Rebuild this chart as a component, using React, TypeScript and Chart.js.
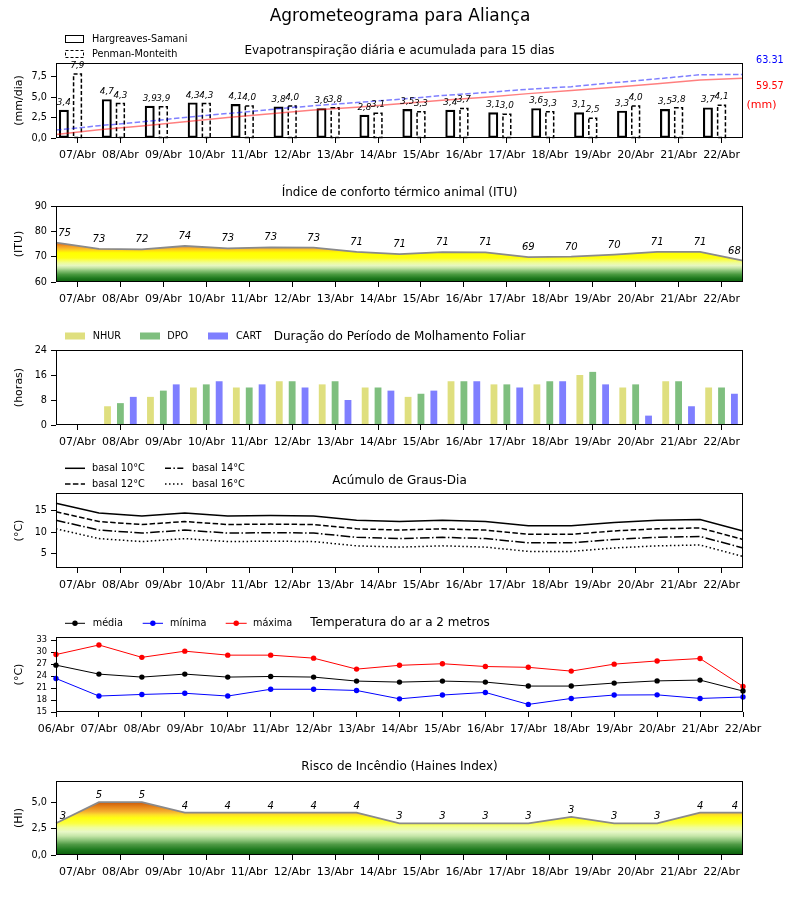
import React, { useEffect, useRef } from "react";
import { Chart, registerables } from "chart.js";

Chart.register(...registerables);

const FONT = '"DejaVu Sans", "Liberation Sans", sans-serif';
Chart.defaults.font.family = FONT;

// ---------------- data ----------------
const DAYS = ["07/Abr", "08/Abr", "09/Abr", "10/Abr", "11/Abr", "12/Abr", "13/Abr", "14/Abr", "15/Abr", "16/Abr", "17/Abr", "18/Abr", "19/Abr", "20/Abr", "21/Abr", "22/Abr"];
const DAYS_EDGES = ["06/Abr", ...DAYS];

const ET_HARGREAVES = [3.4, 4.7, 3.9, 4.3, 4.1, 3.8, 3.6, 2.8, 3.5, 3.4, 3.1, 3.6, 3.1, 3.3, 3.5, 3.7];
const ET_PENMAN = [7.9, 4.3, 3.9, 4.3, 4.0, 4.0, 3.8, 3.1, 3.3, 3.7, 3.0, 3.3, 2.5, 4.0, 3.8, 4.1];
const ET_HARGREAVES_ACC = [3.4, 8.1, 12.0, 16.3, 20.4, 24.2, 27.8, 30.6, 34.1, 37.5, 40.6, 44.2, 47.3, 50.6, 54.1, 57.8, 59.57];
const ET_PENMAN_ACC = [7.9, 12.2, 16.1, 20.4, 24.4, 28.4, 32.2, 35.3, 38.6, 42.3, 45.3, 48.6, 51.1, 55.1, 58.9, 63.0, 63.31];
const ET_TICKS = [0, 2.5, 5, 7.5];

const ITU_VALUES = [75.5, 73.1, 72.9, 74.2, 73.3, 73.7, 73.6, 71.9, 71.0, 71.8, 71.7, 69.8, 70.0, 70.8, 71.9, 71.9, 68.4];
const ITU_TICKS = [60, 70, 80, 90];

const WET_NHUR = [0, 6, 9, 12, 12, 14, 13, 12, 9, 14, 13, 13, 16, 12, 14, 12];
const WET_DPO = [0, 7, 11, 13, 12, 14, 14, 12, 10, 14, 13, 14, 17, 13, 14, 12];
const WET_CART = [0, 9, 13, 14, 13, 12, 8, 11, 11, 14, 12, 14, 13, 3, 6, 10];
const WET_TICKS = [0, 8, 16, 24];

const GD_BASE10 = [16.8, 14.5, 13.8, 14.5, 13.8, 13.9, 13.8, 12.8, 12.5, 12.8, 12.5, 11.5, 11.5, 12.3, 12.8, 13.0, 10.3];
const GD_BASE12 = [14.8, 12.5, 11.8, 12.5, 11.8, 11.9, 11.8, 10.8, 10.5, 10.8, 10.5, 9.5, 9.5, 10.3, 10.8, 11.0, 8.3];
const GD_BASE14 = [12.8, 10.5, 9.8, 10.5, 9.8, 9.9, 9.8, 8.8, 8.5, 8.8, 8.5, 7.5, 7.5, 8.3, 8.8, 9.0, 6.3];
const GD_BASE16 = [10.8, 8.5, 7.8, 8.5, 7.8, 7.9, 7.8, 6.8, 6.5, 6.8, 6.5, 5.5, 5.5, 6.3, 6.8, 7.0, 4.3];
const GD_TICKS = [5, 10, 15];

const TEMP_MEAN = [26.75, 24.5, 23.75, 24.5, 23.75, 23.9, 23.75, 22.75, 22.5, 22.75, 22.5, 21.5, 21.5, 22.25, 22.8, 23.0, 20.25];
const TEMP_MIN = [23.4, 19.0, 19.4, 19.7, 19.0, 20.7, 20.7, 20.4, 18.3, 19.25, 19.9, 16.9, 18.4, 19.25, 19.3, 18.4, 18.75];
const TEMP_MAX = [29.4, 31.8, 28.7, 30.25, 29.25, 29.25, 28.5, 25.75, 26.7, 27.1, 26.4, 26.2, 25.25, 27.0, 27.8, 28.4, 21.4];
const TEMP_TICKS = [15, 18, 21, 24, 27, 30, 33];

const HAINES = [3, 5, 5, 4, 4, 4, 4, 4, 3, 3, 3, 3, 3.6, 3, 3, 4, 4];
const HAINES_TICKS = [0, 2.5, 5];

// ---------------- styles ----------------
const ITU_STOPS: [number, string][] = [
  [60, "#0b5e0b"], [61.5, "#1f7a1f"], [63, "#4a9a40"], [64.5, "#8cc47a"], [65.5, "#c2e3a4"],
  [66.5, "#e6f7c0"], [67.5, "#eefc9a"], [68.5, "#f7fd5a"], [69.5, "#ffff10"], [71.5, "#ffff00"],
  [72.3, "#ffe010"], [73, "#fbc02a"], [74, "#f3a026"], [75, "#e87818"], [76, "#d85a0c"],
];
const HAINES_STOPS: [number, string][] = [
  [0, "#0a5c0a"], [0.5, "#1e7a1e"], [1.0, "#4f9a45"], [1.4, "#8cc47a"], [1.8, "#c5e6a8"],
  [2.2, "#e8f8c8"], [2.6, "#f0fe9a"], [3.0, "#fbff40"], [3.5, "#ffff10"], [3.8, "#fde02a"],
  [4.1, "#f5b030"], [4.5, "#e88a1c"], [5.0, "#cc5a0a"],
];

const comma1 = (v: number) => v.toFixed(1).replace(".", ",");
const int0 = (v: number) => String(Math.round(v));

function txt(ctx: CanvasRenderingContext2D, s: string, x: number, y: number, size: number, color = "#000", align: CanvasTextAlign = "left", italic = false) {
  ctx.save();
  ctx.font = `${italic ? "italic " : ""}${size}px ${FONT}`;
  ctx.fillStyle = color;
  ctx.textAlign = align;
  ctx.textBaseline = "middle";
  ctx.fillText(s, x, y);
  ctx.restore();
}
function vtxt(ctx: CanvasRenderingContext2D, s: string, x: number, y: number, size: number) {
  ctx.save();
  ctx.translate(x, y);
  ctx.rotate(-Math.PI / 2);
  ctx.font = `${size}px ${FONT}`;
  ctx.fillStyle = "#000";
  ctx.textAlign = "center";
  ctx.textBaseline = "middle";
  ctx.fillText(s, 0, 0);
  ctx.restore();
}
function frame(chart: any) {
  const a = chart.chartArea;
  const ctx = chart.ctx;
  ctx.save();
  ctx.strokeStyle = "#000";
  ctx.lineWidth = 1;
  ctx.setLineDash([]);
  ctx.strokeRect(a.left + 0.5, a.top + 0.5, a.right - a.left - 1, a.bottom - a.top - 1);
  ctx.restore();
}
function legendLine(ctx: CanvasRenderingContext2D, x0: number, x1: number, y: number, color: string, dash: number[], width = 1.5, dot = 0) {
  ctx.save();
  ctx.strokeStyle = color;
  ctx.lineWidth = width;
  ctx.setLineDash(dash);
  ctx.beginPath();
  ctx.moveTo(x0, y);
  ctx.lineTo(x1, y);
  ctx.stroke();
  if (dot > 0) {
    ctx.setLineDash([]);
    ctx.fillStyle = color;
    ctx.beginPath();
    ctx.arc((x0 + x1) / 2, y, dot, 0, Math.PI * 2);
    ctx.fill();
  }
  ctx.restore();
}

function gradientFill(stops: [number, string][]) {
  return (context: any) => {
    const chart = context.chart;
    const { chartArea, scales } = chart;
    if (!chartArea) return "rgba(0,0,0,0)";
    const y = scales.y;
    const p0 = y.getPixelForValue(y.min);
    const p1 = y.getPixelForValue(y.max);
    const g = chart.ctx.createLinearGradient(0, p0, 0, p1);
    stops.forEach(([v, c]) => {
      const t = (v - y.min) / (y.max - y.min);
      if (t >= 0 && t <= 1) g.addColorStop(t, c);
    });
    return g;
  };
}

function yScale(min: number, max: number, ticks: number[], fmt: (v: number) => string, size = 9.7) {
  return {
    type: "linear",
    position: "left",
    min,
    max,
    afterFit: (s: any) => { s.width = 56; },
    afterBuildTicks: (s: any) => { s.ticks = ticks.map((v) => ({ value: v })); },
    grid: { drawOnChartArea: false, drawTicks: true, tickLength: 5, tickColor: "#000", tickWidth: 1 },
    border: { display: false },
    ticks: { font: { family: FONT, size }, color: "#000", padding: 4, autoSkip: false, callback: (v: any) => fmt(Number(v)) },
  };
}
function xScale(labels: string[], offset: boolean, height: number) {
  return {
    type: "category",
    position: "bottom",
    labels,
    offset,
    afterFit: (s: any) => { s.height = height; },
    grid: { offset: false, drawOnChartArea: false, drawTicks: true, tickLength: 5, tickColor: "#000", tickWidth: 1 },
    border: { display: false },
    ticks: { font: { family: FONT, size: 11 }, color: "#000", padding: 6, autoSkip: false, maxRotation: 0, minRotation: 0 },
  };
}
const hiddenX = { type: "category", position: "bottom", labels: DAYS_EDGES, offset: false, display: false };

// ET bars: Hargreaves bar sits one bar-slot left of the day tick, Penman bar on the tick
const ET_HS_SHIFT = 0.317;

const baseOptions = (padTop: number) => ({
  responsive: false,
  maintainAspectRatio: false,
  animation: false,
  events: [],
  devicePixelRatio: 1,
  layout: { padding: { left: 0, right: 57, top: padTop, bottom: 0 } },
  plugins: { legend: { display: false }, tooltip: { enabled: false }, title: { display: false } },
});

function pointLabels(chart: any, values: number[], dy: number, size: number, edge0: number, edge1: number) {
  const meta = chart.getDatasetMeta(0);
  const n = meta.data.length;
  meta.data.forEach((el: any, i: number) => {
    const shift = i === 0 ? edge0 : i === n - 1 ? -edge1 : 0;
    txt(chart.ctx, String(Math.floor(values[i])), el.x + shift, el.y - dy, size, "#000", "center", true);
  });
}

// ---------------- panels ----------------
type PanelDef = { top: number; height: number; build: (T: number) => any };

const PANELS: PanelDef[] = [
  {
    top: 0,
    height: 172,
    build: (T) => ({
      type: "bar",
      data: {
        labels: DAYS,
        datasets: [
          { label: "Hargreaves-Samani", data: ET_HARGREAVES.map((v, i) => ({ x: i, y: v })), xAxisID: "xh", grouped: false, barThickness: 9.3, backgroundColor: "rgba(255,255,255,0)", borderColor: "#000", borderWidth: 1.5, borderSkipped: false, order: 1 },
          { label: "Penman-Monteith", data: ET_PENMAN, xAxisID: "x", grouped: false, barThickness: 9.3, backgroundColor: "rgba(255,255,255,0)", borderWidth: 0, order: 1 },
          { type: "line", label: "acc HS", data: ET_HARGREAVES_ACC, xAxisID: "xd", yAxisID: "y2", borderColor: "rgba(255,0,0,0.5)", borderWidth: 1.5, pointRadius: 0, fill: false, tension: 0, order: 0 },
          { type: "line", label: "acc PM", data: ET_PENMAN_ACC, xAxisID: "xd", yAxisID: "y2", borderColor: "rgba(0,0,255,0.5)", borderWidth: 1.5, borderDash: [5.5, 2.4], pointRadius: 0, fill: false, tension: 0, order: 0 },
        ],
      },
      options: {
        ...baseOptions(63 - T),
        scales: {
          x: xScale(DAYS, true, T + 172 - 138),
          xh: { type: "linear", position: "bottom", min: -0.5 + ET_HS_SHIFT, max: DAYS.length - 0.5 + ET_HS_SHIFT, offset: false, display: false },
          xd: hiddenX,
          y: yScale(0, 9.16, ET_TICKS, comma1),
          y2: { type: "linear", position: "right", min: 0, max: 74.7, display: false },
        },
      },
      plugins: [
        {
          id: "etDecor",
          afterDatasetDraw(chart: any, args: any) {
            if (args.index !== 1) return;
            const ctx = chart.ctx;
            ctx.save();
            ctx.strokeStyle = "#000";
            ctx.lineWidth = 1.5;
            ctx.setLineDash([4, 2.2]);
            args.meta.data.forEach((el: any) => {
              const w = el.width;
              ctx.strokeRect(el.x - w / 2 + 0.75, el.y + 0.75, w - 1.5, el.base - el.y - 0.75);
            });
            ctx.restore();
          },
          afterDraw(chart: any) {
            const ctx = chart.ctx;
            frame(chart);
            [0, 1].forEach((di) => {
              const vals = di === 0 ? ET_HARGREAVES : ET_PENMAN;
              chart.getDatasetMeta(di).data.forEach((el: any, i: number) => {
                txt(ctx, comma1(vals[i]), el.x, el.y - 7.5, 8.8, "#000", "center", true);
              });
            });
            txt(ctx, "Agrometeograma para Aliança", 400, 17 - T, 17, "#000", "center");
            txt(ctx, "Evapotranspiração diária e acumulada para 15 dias", 399.5, 51 - T, 12, "#000", "center");
            // legend
            ctx.save();
            ctx.strokeStyle = "#000";
            ctx.lineWidth = 1;
            ctx.strokeRect(65.5, 35.5 - T, 18, 7);
            ctx.setLineDash([3, 2]);
            ctx.strokeRect(65.5, 50.5 - T, 18, 7);
            ctx.restore();
            txt(ctx, "Hargreaves-Samani", 92, 39 - T, 9.7);
            txt(ctx, "Penman-Monteith", 92, 54 - T, 9.7);
            vtxt(ctx, "(mm/dia)", 19, 100.5 - T, 11);
            txt(ctx, ET_PENMAN_ACC[ET_PENMAN_ACC.length - 1].toFixed(2), 756, 60.5 - T, 9.7, "#0000ff");
            txt(ctx, ET_HARGREAVES_ACC[ET_HARGREAVES_ACC.length - 1].toFixed(2), 756, 86.5 - T, 9.7, "#ff0000");
            txt(ctx, "(mm)", 746.5, 105 - T, 11, "#ff0000");
          },
        },
      ],
    }),
  },
  {
    top: 172,
    height: 143,
    build: (T) => ({
      type: "line",
      data: {
        labels: DAYS_EDGES,
        datasets: [
          { data: ITU_VALUES, xAxisID: "xd", yAxisID: "y", borderColor: "#8a8a8a", borderWidth: 1.8, pointRadius: 0, tension: 0, fill: "start", backgroundColor: gradientFill(ITU_STOPS) },
        ],
      },
      options: {
        ...baseOptions(206 - T),
        scales: { x: xScale(DAYS, true, T + 143 - 282), xd: hiddenX, y: yScale(60, 90, ITU_TICKS, int0) },
      },
      plugins: [
        {
          id: "ituDecor",
          afterDraw(chart: any) {
            const ctx = chart.ctx;
            frame(chart);
            pointLabels(chart, ITU_VALUES, 9.5, 10, 8.6, 8.6);
            txt(ctx, "Índice de conforto térmico animal (ITU)", 399.5, 193.3 - T, 12, "#000", "center");
            vtxt(ctx, "(ITU)", 19, 244 - T, 11);
          },
        },
      ],
    }),
  },
  {
    top: 315,
    height: 143,
    build: (T) => ({
      type: "bar",
      data: {
        labels: DAYS,
        datasets: [
          { label: "NHUR", data: WET_NHUR, backgroundColor: "rgb(223,223,127)", borderWidth: 0, categoryPercentage: 0.9, barPercentage: 0.53 },
          { label: "DPO", data: WET_DPO, backgroundColor: "rgb(127,191,127)", borderWidth: 0, categoryPercentage: 0.9, barPercentage: 0.53 },
          { label: "CART", data: WET_CART, backgroundColor: "rgb(127,127,255)", borderWidth: 0, categoryPercentage: 0.9, barPercentage: 0.53 },
        ],
      },
      options: {
        ...baseOptions(350 - T),
        scales: { x: xScale(DAYS, true, T + 143 - 425), y: yScale(0, 24, WET_TICKS, int0) },
      },
      plugins: [
        {
          id: "wetDecor",
          afterDraw(chart: any) {
            const ctx = chart.ctx;
            frame(chart);
            const items: [string, string, number, number][] = [
              ["NHUR", "rgb(223,223,127)", 65, 92.7],
              ["DPO", "rgb(127,191,127)", 140, 167.3],
              ["CART", "rgb(127,127,255)", 208, 236],
            ];
            items.forEach(([name, col, px, tx]) => {
              ctx.fillStyle = col;
              ctx.fillRect(px, 332.5 - T, 20, 7);
              txt(ctx, name, tx, 336.5 - T, 9.7);
            });
            txt(ctx, "Duração do Período de Molhamento Foliar", 399.5, 336.7 - T, 12, "#000", "center");
            vtxt(ctx, "(horas)", 19, 387.5 - T, 11);
          },
        },
      ],
    }),
  },
  {
    top: 458,
    height: 142,
    build: (T) => ({
      type: "line",
      data: {
        labels: DAYS_EDGES,
        datasets: [
          { label: "basal 10°C", data: GD_BASE10, xAxisID: "xd", borderColor: "#000", borderWidth: 1.5, pointRadius: 0, tension: 0, fill: false },
          { label: "basal 12°C", data: GD_BASE12, xAxisID: "xd", borderColor: "#000", borderWidth: 1.5, borderDash: [5.5, 2.4], pointRadius: 0, tension: 0, fill: false },
          { label: "basal 14°C", data: GD_BASE14, xAxisID: "xd", borderColor: "#000", borderWidth: 1.5, borderDash: [9.6, 2.4, 1.5, 2.4], pointRadius: 0, tension: 0, fill: false },
          { label: "basal 16°C", data: GD_BASE16, xAxisID: "xd", borderColor: "#000", borderWidth: 1.5, borderDash: [1.5, 2.5], pointRadius: 0, tension: 0, fill: false },
        ],
      },
      options: {
        ...baseOptions(493 - T),
        scales: { x: xScale(DAYS, true, T + 142 - 568), xd: hiddenX, y: yScale(1.6, 19.2, GD_TICKS, int0) },
      },
      plugins: [
        {
          id: "gdDecor",
          afterDraw(chart: any) {
            const ctx = chart.ctx;
            frame(chart);
            legendLine(ctx, 65, 85, 468.3 - T, "#000", []);
            txt(ctx, "basal 10°C", 92, 468.3 - T, 9.7);
            legendLine(ctx, 65, 85, 484 - T, "#000", [5.5, 2.4]);
            txt(ctx, "basal 12°C", 92, 484 - T, 9.7);
            legendLine(ctx, 165, 185, 468.3 - T, "#000", [6, 2.4, 1.5, 2.4]);
            txt(ctx, "basal 14°C", 192, 468.3 - T, 9.7);
            legendLine(ctx, 165, 185, 484 - T, "#000", [1.5, 2.5]);
            txt(ctx, "basal 16°C", 192, 484 - T, 9.7);
            txt(ctx, "Acúmulo de Graus-Dia", 399.5, 480.7 - T, 12, "#000", "center");
            vtxt(ctx, "(°C)", 19, 530.5 - T, 11);
          },
        },
      ],
    }),
  },
  {
    top: 600,
    height: 145,
    build: (T) => ({
      type: "line",
      data: {
        labels: DAYS_EDGES,
        datasets: [
          { label: "média", data: TEMP_MEAN, borderColor: "#000", backgroundColor: "#000", borderWidth: 1, pointRadius: 2.7, pointBorderWidth: 0, pointBackgroundColor: "#000", tension: 0, fill: false },
          { label: "mínima", data: TEMP_MIN, borderColor: "#0000ff", backgroundColor: "#0000ff", borderWidth: 1, pointRadius: 2.7, pointBorderWidth: 0, pointBackgroundColor: "#0000ff", tension: 0, fill: false },
          { label: "máxima", data: TEMP_MAX, borderColor: "#ff0000", backgroundColor: "#ff0000", borderWidth: 1, pointRadius: 2.7, pointBorderWidth: 0, pointBackgroundColor: "#ff0000", tension: 0, fill: false },
        ],
      },
      options: {
        ...baseOptions(637 - T),
        scales: { x: xScale(DAYS_EDGES, false, T + 145 - 712), y: yScale(15, 33.8, TEMP_TICKS, int0, 8.3) },
      },
      plugins: [
        {
          id: "tempDecor",
          afterDraw(chart: any) {
            const ctx = chart.ctx;
            frame(chart);
            const y = 623.3 - T;
            legendLine(ctx, 65, 85, y, "#000", [], 1, 2.7);
            txt(ctx, "média", 92.7, y, 9.7);
            legendLine(ctx, 142.7, 163, y, "#0000ff", [], 1, 2.7);
            txt(ctx, "mínima", 170, y, 9.7);
            legendLine(ctx, 225.7, 246.7, y, "#ff0000", [], 1, 2.7);
            txt(ctx, "máxima", 253, y, 9.7);
            txt(ctx, "Temperatura do ar a 2 metros", 400, 623.3 - T, 12, "#000", "center");
            vtxt(ctx, "(°C)", 19, 674.5 - T, 11);
          },
        },
      ],
    }),
  },
  {
    top: 745,
    height: 155,
    build: (T) => ({
      type: "line",
      data: {
        labels: DAYS_EDGES,
        datasets: [
          { data: HAINES, xAxisID: "xd", yAxisID: "y", borderColor: "#8a8a8a", borderWidth: 1.8, pointRadius: 0, tension: 0, fill: "start", backgroundColor: gradientFill(HAINES_STOPS) },
        ],
      },
      options: {
        ...baseOptions(781 - T),
        scales: { x: xScale(DAYS, true, T + 155 - 855), xd: hiddenX, y: yScale(0, 7, HAINES_TICKS, comma1) },
      },
      plugins: [
        {
          id: "hainesDecor",
          afterDraw(chart: any) {
            const ctx = chart.ctx;
            frame(chart);
            pointLabels(chart, HAINES, 6.5, 10, 7, 8);
            txt(ctx, "Risco de Incêndio (Haines Index)", 399.5, 766.7 - T, 12, "#000", "center");
            vtxt(ctx, "(HI)", 19, 818 - T, 11);
          },
        },
      ],
    }),
  },
];

function Panel({ def }: { def: PanelDef }) {
  const ref = useRef<HTMLCanvasElement>(null);
  useEffect(() => {
    if (!ref.current) return;
    const chart = new Chart(ref.current, def.build(def.top));
    return () => chart.destroy();
  }, [def]);
  return (
    <canvas
      ref={ref}
      width={800}
      height={def.height}
      style={{ position: "absolute", left: 0, top: def.top, width: 800, height: def.height, display: "block" }}
    />
  );
}

export default function App() {
  return (
    <div style={{ position: "absolute", left: 0, top: 0, width: 800, height: 900, background: "#fff", overflow: "hidden" }}>
      {PANELS.map((p, i) => (
        <Panel key={i} def={p} />
      ))}
    </div>
  );
}
